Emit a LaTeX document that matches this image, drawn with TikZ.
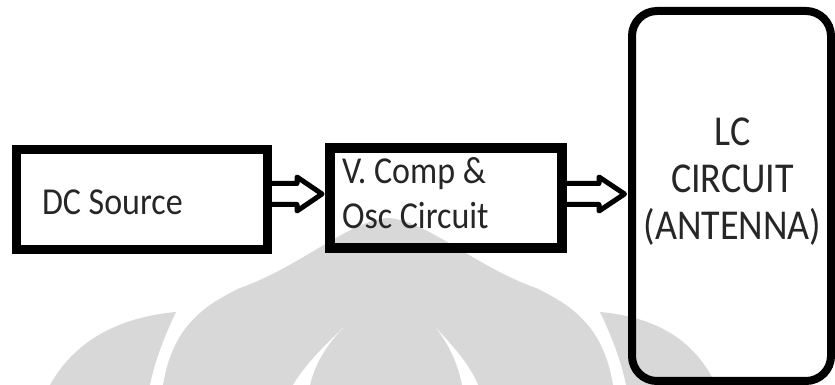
\documentclass[tikz,border=0pt]{standalone}
\usepackage{fontspec}
\setmainfont{Carlito}
\usetikzlibrary{calc}
\definecolor{wm}{RGB}{216,216,216}
\definecolor{ink}{RGB}{38,38,38}
\begin{document}
\begin{tikzpicture}[x=1pt,y=1pt,
  blockbox/.style={draw=black, outer sep=0pt, inner sep=0pt},
  lbl/.style={inner sep=0pt, outer sep=0pt, text=ink, yscale=1.12, transform shape,
    font=\fontsize{34}{41}\selectfont},
  fatarrow/.style={draw=black, line width=5pt, line join=round}]
\useasboundingbox (0,0) rectangle (835,385);
% watermark
\fill[wm] (163,0) .. controls (172,55) and (200,78) .. (240,97)
  .. controls (300,118) and (350,165) .. (388,167)
  .. controls (426,165) and (476,118) .. (536,97)
  .. controls (576,78) and (604,55) .. (613,0) -- cycle;
\fill[wm] (50,0) .. controls (75,45) and (120,68) .. (176,73)
  .. controls (165,50) and (155,25) .. (150,0) -- cycle;
\fill[wm] (716,0) .. controls (695,45) and (656,68) .. (600,73)
  .. controls (611,50) and (621,25) .. (626,0) -- cycle;
\fill[white] (343,57) .. controls (325,40) and (305,20) .. (293,0) -- (310,0)
  .. controls (315,22) and (328,42) .. (343,57) -- cycle;
\fill[white] (436,57) .. controls (452,40) and (470,20) .. (478,0) -- (462,0)
  .. controls (458,22) and (448,42) .. (436,57) -- cycle;
% boxes
\node[blockbox, line width=9pt, minimum width=251pt, minimum height=100pt] (dc) at (142,185) {};
\node[blockbox, line width=10pt, minimum width=232pt, minimum height=100pt] (vc) at (446,187) {};
\node[blockbox, line width=8pt, rounded corners=25pt, minimum width=199pt, minimum height=370pt] (lc) at (731.5,189) {};
% labels
\node[lbl, anchor=base west] (dct) at (42,170) {DC Source};
\node[lbl, anchor=base west, align=left] (vct) at (342,156) {V. Comp \&\\Osc Circuit};
\node[lbl, anchor=base, align=center, font=\fontsize{38}{42}\selectfont] (lct) at (732.5,145) {LC\\CIRCUIT\\(ANTENNA)};
% arrows
\draw[fatarrow] let \p1=(dc.east), \p2=(vc.west), \n1={\y1+6pt} in
  (\x1,\n1+10.5pt) -- (\x2-33pt,\n1+10.5pt) -- (\x2-33pt,\n1+17pt) -- (\x2-8pt,\n1)
  -- (\x2-33pt,\n1-17pt) -- (\x2-33pt,\n1-10.5pt) -- (\x1,\n1-10.5pt);
\draw[fatarrow] let \p1=(vc.east), \p2=(lc.west), \n1={\y1+4pt} in
  (\x1,\n1+10.5pt) -- (\x2-33pt,\n1+10.5pt) -- (\x2-33pt,\n1+17pt) -- (\x2-7.5pt,\n1)
  -- (\x2-33pt,\n1-17pt) -- (\x2-33pt,\n1-10.5pt) -- (\x1,\n1-10.5pt);
\end{tikzpicture}
\end{document}
